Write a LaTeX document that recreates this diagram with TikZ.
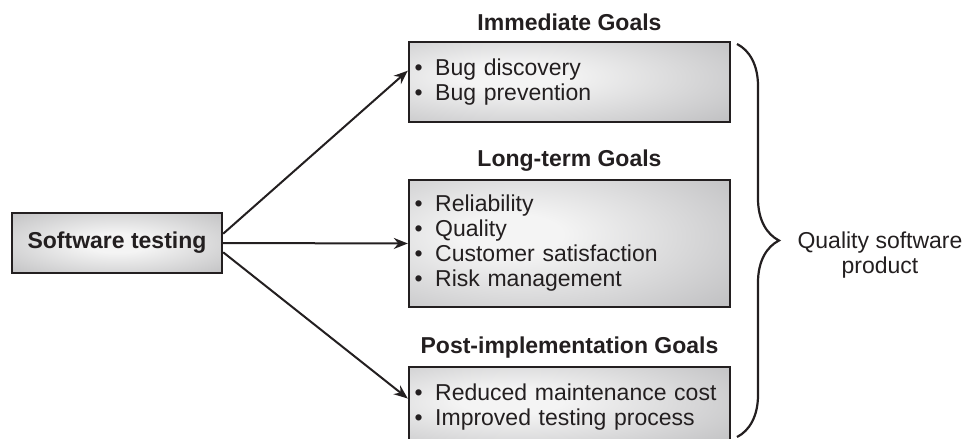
\documentclass[tikz,border=0pt]{standalone}
\usepackage{fontspec}
\setmainfont{Liberation Sans}
\usepackage{xcolor}
\definecolor{inkgray}{RGB}{35,31,32}
\definecolor{shadelight}{RGB}{244,244,244}
\definecolor{shademid}{RGB}{190,190,192}
\definecolor{shadedark}{RGB}{130,130,132}
\usepackage{tikz}
\usetikzlibrary{arrows.meta, positioning, decorations.pathreplacing}

% glossy grey fills for the boxes
\pgfdeclareradialshading{goalshade}{\pgfpoint{-10bp}{4bp}}{%
  color(0bp)=(shadelight); color(8bp)=(shadelight);
  color(42bp)=(shademid); color(64bp)=(shadedark); color(90bp)=(shadedark)}
\pgfdeclareradialshading{startshade}{\pgfpoint{0bp}{0bp}}{%
  color(0bp)=(shadelight); color(8bp)=(shadelight);
  color(48bp)=(shademid!70!shadedark); color(80bp)=(shadedark)}

\newcommand{\goalsize}{\fontsize{11.5}{12.5}\selectfont}
\newcommand{\goalitem}{\textbullet\hspace{0.55em}}

\tikzset{
  goalbox/.style={draw=inkgray, line width=1.2pt, shading=goalshade,
    minimum width=160.5pt, text width=155pt, inner xsep=2.75pt,
    align=left, text=inkgray, font=\goalsize},
  goaltitle/.style={font=\goalsize\bfseries, text=inkgray},
  flow/.style={-{Stealth[length=7pt,width=5.5pt]}, line width=1pt, draw=inkgray},
}

\begin{document}
\begin{tikzpicture}[x=0.5pt, y=-0.5pt]
  \path[use as bounding box, clip] (0,0) rectangle (965,439);

  \node[draw=inkgray, line width=1.2pt, shading=startshade,
    minimum width=105pt, minimum height=30pt, text=inkgray,
    font=\goalsize\bfseries] (soft) at (117,243) {Software testing};

  % the three groups of goals
  \node[goalbox, minimum height=40pt] (imm) at (569.5,82)
    {\goalitem Bug discovery\\ \goalitem Bug prevention};
  \node[goalbox, minimum height=63.5pt] (long) at (569.5,243.5)
    {\goalitem Reliability\\ \goalitem Quality\\
     \goalitem Customer satisfaction\\ \goalitem Risk management};
  \node[goalbox, minimum height=40pt] (post) at (569.5,407)
    {\goalitem Reduced maintenance cost\\ \goalitem Improved testing process};

  \node[goaltitle, above=5pt of imm.north, anchor=base] (immt) {Immediate Goals};
  \node[goaltitle, above=6pt of long.north, anchor=base] (longt) {Long-term Goals};
  \node[goaltitle, above=6pt of post.north, anchor=base] (postt) {Post-implementation Goals};

  \draw[flow] (soft.5) -- (imm.176);
  \draw[flow] (soft.east) -- (long.west);
  \draw[flow] (soft.-5) -- (post.177);

  % brace collecting all goals
  \coordinate (bracetop) at (737,44);
  \coordinate (bracebot) at (737,437);
  \draw[inkgray, line width=1.1pt, decorate,
    decoration={brace, amplitude=21pt}] (bracetop) -- (bracebot);
  \node[align=center, text=inkgray, font=\goalsize] (result) at (880,255)
    {Quality software\\ product};
\end{tikzpicture}
\end{document}
